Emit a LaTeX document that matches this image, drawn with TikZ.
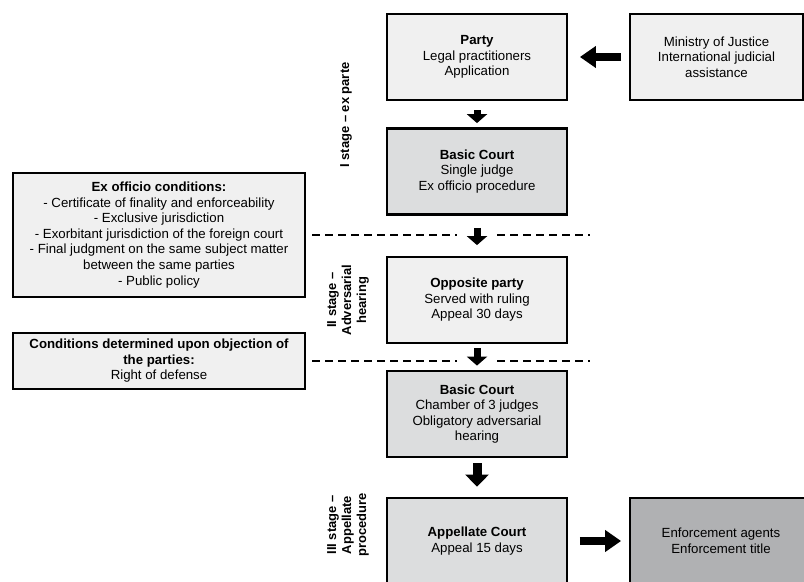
\documentclass[tikz,border=0pt]{standalone}
\usepackage{fontspec}
\setmainfont{Liberation Sans}
\usepackage{xcolor}
\usetikzlibrary{arrows.meta}
\definecolor{boxlight}{HTML}{F0F0F0}
\definecolor{boxmid}{HTML}{DCDDDE}
\definecolor{boxdark}{HTML}{B0B1B3}

\begin{document}
\begin{tikzpicture}[x=1bp,y=-1bp,
        box/.style={draw,line width=2.8bp,align=center,minimum width=180bp,minimum height=86bp,inner sep=2bp,font=\fontsize{13.3}{15.6}\selectfont},
        stagelabel/.style={rotate=90,align=center,font=\fontsize{13}{15}\selectfont\bfseries},
        downarrow/.style={line width=7bp,-{Triangle[width=20bp,length=9bp]}},
        bigarrow/.style={line width=9bp,-{Triangle[width=23bp,length=12bp]}},
        sidearrow/.style={line width=8bp,-{Triangle[width=21bp,length=16bp]}},
        dashline/.style={line width=2.5bp,dash pattern=on 8bp off 5bp}]
        \useasboundingbox (0,0) rectangle (804,582);

        \node[box,fill=boxlight] (party) at (477,57) {\textbf{Party}\\Legal practitioners\\Application};
        \node[box,fill=boxlight,minimum width=173bp] (ministry) at (716.5,57) {Ministry of Justice\\International judicial\\assistance};
        \node[box,fill=boxmid] (court1) at (477,171.5) {\textbf{Basic Court}\\Single judge\\Ex officio procedure};
        \node[box,fill=boxlight] (oppo) at (477,300) {\textbf{Opposite party}\\Served with ruling\\Appeal 30 days};
        \node[box,fill=boxmid] (court2) at (477,414) {\textbf{Basic Court}\\Chamber of 3 judges\\Obligatory adversarial\\hearing};
        \node[box,fill=boxmid] (appel) at (477,541) {\textbf{Appellate Court}\\Appeal 15 days};
        \node[box,fill=boxdark,minimum width=182bp] (enforce) at (721,541) {Enforcement agents\\Enforcement title};

        \node[box,fill=boxlight,minimum width=292bp,minimum height=124bp] (exoff) at (159,235) {\textbf{Ex officio conditions:}\\- Certificate of finality and enforceability\\- Exclusive jurisdiction\\- Exorbitant jurisdiction of the foreign court\\- Final judgment on the same subject matter\\between the same parties\\- Public policy};
        \node[box,fill=boxlight,minimum width=292bp,minimum height=56bp] (objec) at (159,361) {\textbf{Conditions determined upon objection of}\\\textbf{the parties:}\\Right of defense};

        \node[stagelabel] (stage1) at (346,115) {I stage -- ex parte};
        \node[stagelabel] (stage2) at (348,300) {II stage --\\Adversarial\\hearing};
        \node[stagelabel] (stage3) at (348,525) {III stage --\\Appellate\\procedure};

        \draw[dashline] ([xshift=6bp]exoff.east) -- (457,235);
        \draw[dashline] (497,235) -- (590,235);
        \draw[dashline] ([xshift=6bp]objec.east) -- (457,361);
        \draw[dashline] (497,361) -- (590,361);

        \draw[downarrow,shorten <=9bp,shorten >=4bp] (party) -- (court1);
        \draw[downarrow,shorten <=12bp,shorten >=10.5bp] (court1) -- (oppo);
        \draw[downarrow,shorten <=4bp,shorten >=4bp] (oppo) -- (court2);
        \draw[bigarrow,shorten <=5bp,shorten >=10bp] (court2) -- (appel);
        \draw[sidearrow,shorten <=7.5bp,shorten >=11.5bp] (ministry) -- (party);
        \draw[sidearrow,shorten <=11.5bp,shorten >=7.5bp] (appel) -- (enforce);
    \end{tikzpicture}
\end{document}
